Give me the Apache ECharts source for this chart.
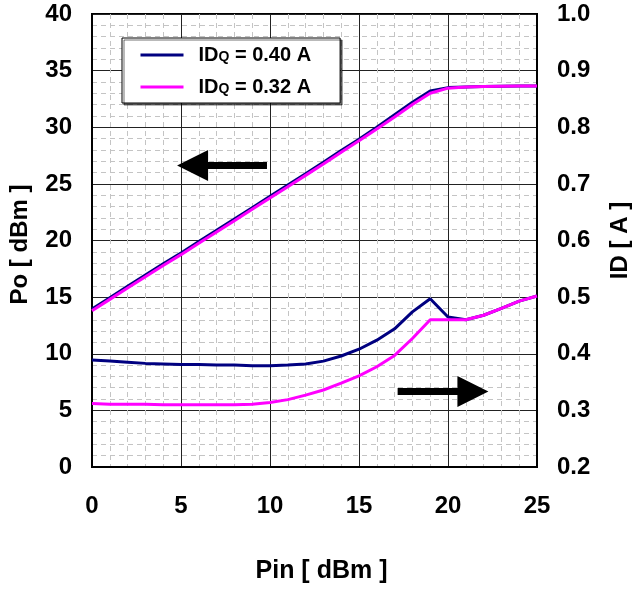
<!DOCTYPE html>
<html>
<head>
<meta charset="utf-8">
<script src="https://cdn.jsdelivr.net/npm/echarts@6/dist/echarts.min.js"></script>
<style>
html,body{margin:0;padding:0;background:#fff;}
#chart{width:640px;height:589px;}
</style>
</head>
<body>
<div id="chart"></div>
<script>
// ---- data ----
const pin = [0,1,2,3,4,5,6,7,8,9,10,11,12,13,14,15,16,17,18,19,20,21,22,23,24,25];
const seriesNames = ['IDQ = 0.40 A', 'IDQ = 0.32 A'];
// Output power Po [dBm]
const poIdq040 = [13.95,14.95,15.95,16.95,17.95,18.9,19.9,20.9,21.9,22.9,23.9,24.9,25.9,26.9,27.95,28.95,30.0,31.1,32.2,33.2,33.5,33.56,33.6,33.62,33.64,33.65];
const poIdq032 = [13.8,14.8,15.8,16.8,17.8,18.75,19.75,20.75,21.75,22.75,23.75,24.75,25.75,26.75,27.8,28.8,29.85,30.9,32.0,33.0,33.45,33.55,33.6,33.62,33.64,33.65];
// Drain current ID [A]
const idIdq040 = [0.389,0.387,0.385,0.383,0.382,0.381,0.381,0.380,0.380,0.379,0.379,0.380,0.382,0.387,0.396,0.408,0.424,0.444,0.474,0.497,0.465,0.460,0.468,0.480,0.493,0.502];
const idIdq032 = [0.312,0.311,0.311,0.311,0.310,0.310,0.310,0.310,0.310,0.311,0.314,0.319,0.327,0.336,0.348,0.361,0.377,0.397,0.427,0.460,0.460,0.460,0.468,0.480,0.493,0.502];
// axis ticks
const xTicks = [0,5,10,15,20,25];
const poTicks = [0,5,10,15,20,25,30,35,40];
const idTicks = [0.2,0.3,0.4,0.5,0.6,0.7,0.8,0.9,1.0];
// annotation arrows [tail, tip] in data units (Pin, Po)
const arrowPo = [[9.83, 26.63], [4.78, 26.63]];
const arrowId = [[17.17, 6.67], [22.27, 6.67]];

const FONT = '"Liberation Sans", Arial, Helvetica, sans-serif';
const pair = (xs, ys) => xs.map((x, i) => [x, ys[i]]);

const chart = echarts.init(document.getElementById('chart'), null, {renderer: 'canvas'});

function arrowRender(params, api) {
  const tail = api.coord([api.value(0), api.value(1)]);
  const tip = api.coord([api.value(2), api.value(3)]);
  const dx = tip[0] - tail[0], dy = tip[1] - tail[1];
  const len = Math.sqrt(dx * dx + dy * dy);
  const ux = dx / len, uy = dy / len, nx = -uy, ny = ux;
  const headLen = 31, headHalf = 15.5, shaftHalf = 3.5;
  const bx = tip[0] - ux * headLen, by = tip[1] - uy * headLen;
  const pts = [
    [tail[0] + nx * shaftHalf, tail[1] + ny * shaftHalf],
    [bx + nx * shaftHalf, by + ny * shaftHalf],
    [bx + nx * headHalf, by + ny * headHalf],
    [tip[0], tip[1]],
    [bx - nx * headHalf, by - ny * headHalf],
    [bx - nx * shaftHalf, by - ny * shaftHalf],
    [tail[0] - nx * shaftHalf, tail[1] - ny * shaftHalf]
  ];
  return {type: 'polygon', shape: {points: pts}, style: {fill: '#000'}};
}

const lineSeries = (name, color, yIdx, ys) => ({
  name: name, type: 'line', xAxisIndex: 0, yAxisIndex: yIdx,
  data: pair(pin, ys), symbol: 'none', showSymbol: false, smooth: false,
  lineStyle: {color: color, width: 3}, itemStyle: {color: color},
  silent: true, animation: false
});

const option = {
  animation: false,
  textStyle: {fontFamily: FONT},
  grid: {left: 92, top: 14, right: 102, bottom: 121, show: true,
         borderColor: '#000', borderWidth: 2, backgroundColor: 'transparent'},
  legend: {
    data: seriesNames,
    orient: 'vertical', left: 122, top: 38,
    padding: [7, 29, 6, 17],
    itemWidth: 43, itemHeight: 20, itemGap: 12,
    backgroundColor: '#fff', borderColor: '#000', borderWidth: 1,
    shadowColor: 'rgba(0,0,0,0.55)', shadowOffsetX: 2, shadowOffsetY: 2, shadowBlur: 0,
    selectedMode: false,
    itemStyle: {color: 'rgba(0,0,0,0)', borderColor: 'rgba(0,0,0,0)', borderWidth: 0},
    lineStyle: {width: 3},
    formatter: function (name) {
      return '{g|}{a|ID}{q|Q}{a|' + name.slice(3) + '}';
    },
    textStyle: {
      fontFamily: FONT, fontSize: 20, fontWeight: 'bold', color: '#000',
      rich: {
        g: {width: 10},
        a: {fontFamily: FONT, fontSize: 20, fontWeight: 'bold', color: '#000', lineHeight: 20, verticalAlign: 'bottom'},
        q: {fontFamily: FONT, fontSize: 14, fontWeight: 'bold', color: '#000', lineHeight: 20, verticalAlign: 'bottom', padding: [0, 0, 1, 0]}
      }
    }
  },
  xAxis: {
    type: 'value', min: xTicks[0], max: xTicks[xTicks.length - 1], interval: 5,
    name: 'Pin [ dBm ]', nameLocation: 'middle', nameGap: 92,
    nameTextStyle: {fontFamily: FONT, fontSize: 25, fontWeight: 'bold', color: '#000', padding: [0, 0, 0, 14]},
    axisLine: {show: true, lineStyle: {color: '#000', width: 2}},
    axisTick: {show: false},
    axisLabel: {margin: 27, fontFamily: FONT, fontSize: 24, fontWeight: 'bold', color: '#000'},
    splitLine: {show: true, lineStyle: {color: '#222', width: 1}},
    minorTick: {show: false, splitNumber: 5},
    minorSplitLine: {show: true, lineStyle: {color: '#c4c4c4', width: 1, type: [5, 4]}}
  },
  yAxis: [
    {
      type: 'value', position: 'left', min: poTicks[0], max: poTicks[poTicks.length - 1], interval: 5,
      name: 'Po [ dBm ]', nameLocation: 'middle', nameGap: 60,
      nameTextStyle: {fontFamily: FONT, fontSize: 24, fontWeight: 'bold', color: '#000', padding: [0, 8, 0, 0]},
      axisLine: {show: true, lineStyle: {color: '#000', width: 2}},
      axisTick: {show: false},
      axisLabel: {margin: 20, fontFamily: FONT, fontSize: 24, fontWeight: 'bold', color: '#000'},
      splitLine: {show: true, lineStyle: {color: '#222', width: 1}},
      minorTick: {show: false, splitNumber: 5},
      minorSplitLine: {show: true, lineStyle: {color: '#c4c4c4', width: 1, type: [5, 4]}}
    },
    {
      type: 'value', position: 'right', min: idTicks[0], max: idTicks[idTicks.length - 1], interval: 0.1,
      name: 'ID [ A ]', nameLocation: 'middle', nameGap: 71, nameRotate: 90,
      nameTextStyle: {fontFamily: FONT, fontSize: 24, fontWeight: 'bold', color: '#000'},
      axisLine: {show: true, lineStyle: {color: '#000', width: 2}},
      axisTick: {show: false},
      axisLabel: {margin: 20, fontFamily: FONT, fontSize: 24, fontWeight: 'bold', color: '#000',
                  formatter: v => v.toFixed(1)},
      splitLine: {show: false}
    }
  ],
  series: [
    lineSeries(seriesNames[0], '#000080', 0, poIdq040),
    lineSeries(seriesNames[0], '#000080', 1, idIdq040),
    lineSeries(seriesNames[1], '#ff00ff', 0, poIdq032),
    lineSeries(seriesNames[1], '#ff00ff', 1, idIdq032),
    {
      type: 'custom', xAxisIndex: 0, yAxisIndex: 0, silent: true,
      renderItem: arrowRender,
      data: [
        [arrowPo[0][0], arrowPo[0][1], arrowPo[1][0], arrowPo[1][1]],
        [arrowId[0][0], arrowId[0][1], arrowId[1][0], arrowId[1][1]]
      ],
      z: 5
    }
  ]
};
chart.setOption(option);
</script>
</body>
</html>
